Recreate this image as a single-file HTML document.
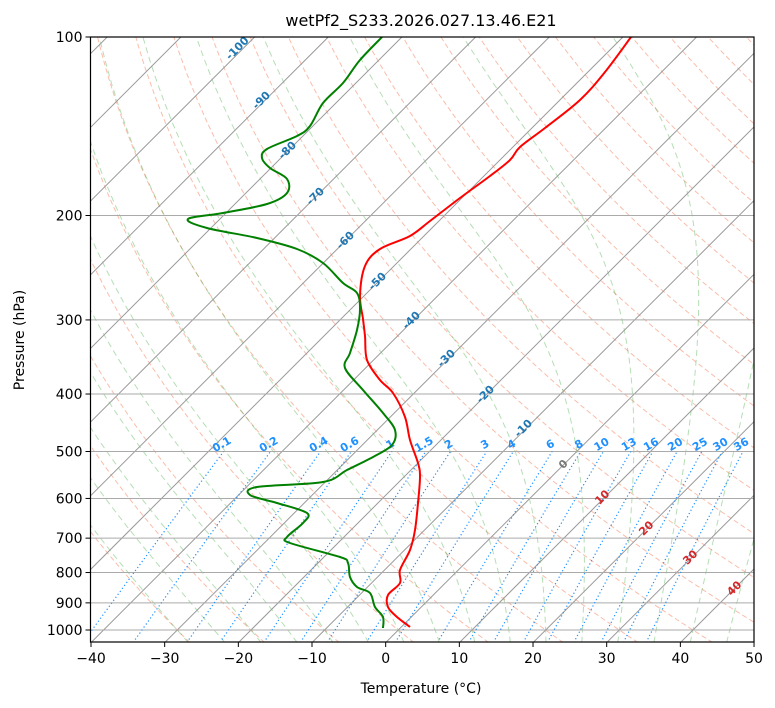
<!DOCTYPE html>
<html><head><meta charset="utf-8"><style>
body{margin:0;background:#fff;}
svg{display:block;font-family:"DejaVu Sans","Liberation Sans",sans-serif;}
</style></head><body>
<svg id="s" width="775" height="708" xmlns="http://www.w3.org/2000/svg">
<defs><clipPath id="c"><rect x="90.5" y="37" width="663.5" height="605"/></clipPath></defs>
<rect width="775" height="708" fill="#fff"/>
<g id="bg" clip-path="url(#c)"></g>
<g id="fg" clip-path="url(#c)"></g>
<g id="ax"></g>
<text x="421" y="26" font-size="16" text-anchor="middle">wetPf2_S233.2026.027.13.46.E21</text>
<text x="421" y="693" font-size="14" text-anchor="middle">Temperature (°C)</text>
<text x="24" y="340" font-size="14" text-anchor="middle" transform="rotate(-90 24 340)">Pressure (hPa)</text>
</svg>
<script>
const NS="http://www.w3.org/2000/svg";
const L=90.5,R=754,T=37,B=642;
function Y(p){return 37+593*Math.log10(p/100);}
function X(t,p){return 91+(t+40)*7.367+(642.6-Y(p));}
function el(par,tag,at,txt){const e=document.createElementNS(NS,tag);for(const k in at)e.setAttribute(k,at[k]);if(txt!==undefined)e.textContent=txt;par.appendChild(e);return e;}
const bg=document.getElementById('bg'),fg=document.getElementById('fg'),ax=document.getElementById('ax');
function poly(par,pts,st){el(par,'polyline',Object.assign({points:pts.map(q=>q[0].toFixed(1)+','+q[1].toFixed(1)).join(' '),fill:'none'},st));}
function smooth(par,P,st){let d='M'+P[0][0]+','+P[0][1];
 for(let i=0;i<P.length-1;i++){const p0=P[Math.max(0,i-1)],p1=P[i],p2=P[i+1],p3=P[Math.min(P.length-1,i+2)];
  const c1=[p1[0]+(p2[0]-p0[0])/6,p1[1]+(p2[1]-p0[1])/6],c2=[p2[0]-(p3[0]-p1[0])/6,p2[1]-(p3[1]-p1[1])/6];
  d+=` C${c1[0].toFixed(1)},${c1[1].toFixed(1)} ${c2[0].toFixed(1)},${c2[1].toFixed(1)} ${p2[0]},${p2[1]}`;}
 el(par,'path',Object.assign({d:d,fill:'none'},st));}
const ps=[];for(let p=1050;p>=100;p-=5)ps.push(p);
for(let th=-30;th<=260;th+=10){const K=th+273.15;poly(bg,ps.map(p=>[X(K*Math.pow(p/1000,0.2857)-273.15,p),Y(p)]),{stroke:'#f46d43','stroke-opacity':0.45,'stroke-width':1,'stroke-dasharray':'5,3'});}
function es(t){return 6.112*Math.exp(17.67*t/(t+243.5));}
function dTdp(p,Tk){const t=Tk-273.15;const rs=0.622*es(t)/(p-es(t));const Rd=287.04,Lv=2.501e6,Cp=1005.7;return (1/p)*(Rd*Tk+Lv*rs)/(Cp+Lv*Lv*rs*0.622/(Rd*Tk*Tk));}
for(let t0=-30;t0<=50;t0+=5){let pts=[];let Tk=t0+273.15;let p=1000;
 let Td=Tk,pp=1000;while(pp<1050){Td+=dTdp(pp,Td)*5;pp+=5;}
 pts.push([X(Td-273.15,1050),Y(1050)]);
 pts.push([X(t0,1000),Y(1000)]);
 while(p>100){Tk-=dTdp(p,Tk)*2;p-=2;if(p%10===0)pts.push([X(Tk-273.15,p),Y(p)]);}
 poly(bg,pts,{stroke:'#2ca02c','stroke-opacity':0.35,'stroke-width':1,'stroke-dasharray':'6,4'});}
for(let t=-140;t<=50;t+=10){poly(bg,[[X(t,1050),Y(1050)],[X(t,100),Y(100)]],{stroke:'#999','stroke-width':1});}
for(let p=100;p<=1000;p+=100){el(bg,'line',{x1:L,x2:R,y1:Y(p),y2:Y(p),stroke:'#aaa','stroke-width':1});}
const ws=[0.1,0.2,0.4,0.6,1,1.5,2,3,4,6,8,10,13,16,20,25,30,36];
function tdw(w,p){const e=w*p/(622+w);const l=Math.log(e/6.112);return 243.5*l/(17.67-l);}
ws.forEach(w=>{const pts=[];for(let p=1050;p>=500;p-=10)pts.push([X(tdw(w,p),p),Y(p)]);
 poly(bg,pts,{stroke:'#1e90ff','stroke-width':1.2,'stroke-dasharray':'1.2,2.5'});
 const x=X(tdw(w,500),500),y=Y(500)-4;
 el(bg,'text',{x:x,y:y,'font-size':11,'font-weight':'bold',fill:'#1e90ff','text-anchor':'middle',transform:`rotate(-30 ${x} ${y})`},String(w));});
const lab=[[-100,237,48],[-90,261,100],[-80,287,150],[-70,315,196],[-60,345,240],[-50,377,281],[-40,411,320],[-30,446,358],[-20,485,394],[-10,523,428],[0,563,464],[10,602,497],[20,646,528],[30,690,557],[40,734,588]];
lab.forEach(a=>{const c=a[0]<0?'#1f77b4':(a[0]==0?'#777':'#d62728');
 el(fg,'text',{x:a[1],y:a[2]+4,'font-size':11,'font-weight':'bold',fill:c,'text-anchor':'middle',transform:`rotate(-45 ${a[1]} ${a[2]})`},String(a[0]));});
const red=[[631,37],[605,72],[580,100],[545,128],[520,147],[510,160],[490,176],[460,198],[430,221],[410,236],[380,249],[365,266],[360,296],[363,319],[365,336],[367,360],[380,380],[393,393],[405,417],[410,440],[418,463],[420,477],[418,503],[415,530],[410,550],[400,570],[400,583],[388,595],[388,607],[397,617],[410,627]];
const grn=[[383,36],[360,60],[343,83],[323,103],[310,126],[297,136],[267,149],[262,158],[270,168],[287,179],[287,193],[267,204],[223,213],[188,219],[207,228],[257,238],[297,249],[323,263],[343,283],[357,293],[360,309],[357,330],[350,353],[345,368],[363,390],[383,413],[395,430],[392,445],[373,457],[347,470],[323,482],[257,487],[250,495],[277,503],[307,513],[303,523],[287,537],[290,543],[340,557],[348,563],[350,577],[357,587],[370,593],[375,607],[383,617],[383,628]];
smooth(fg,red,{stroke:'#ff0000','stroke-width':2,'stroke-linejoin':'round'});
smooth(fg,grn,{stroke:'#008000','stroke-width':2,'stroke-linejoin':'round'});
el(ax,'rect',{x:L,y:T,width:R-L,height:B-T,fill:'none',stroke:'#000','stroke-width':1.2});
for(let t=-40;t<=50;t+=10){const x=91+(t+40)*7.367;el(ax,'line',{x1:x,x2:x,y1:B,y2:B+5,stroke:'#000'});
 el(ax,'text',{x:x,y:B+21,'font-size':14,'text-anchor':'middle'},(t<0?'\u2212':'')+Math.abs(t));}
for(let p=100;p<=1000;p+=100){const y=Y(p);el(ax,'line',{x1:L-5,x2:L,y1:y,y2:y,stroke:'#000'});
 el(ax,'text',{x:L-8,y:y+5,'font-size':14,'text-anchor':'end'},String(p));}
</script>
</body></html>
